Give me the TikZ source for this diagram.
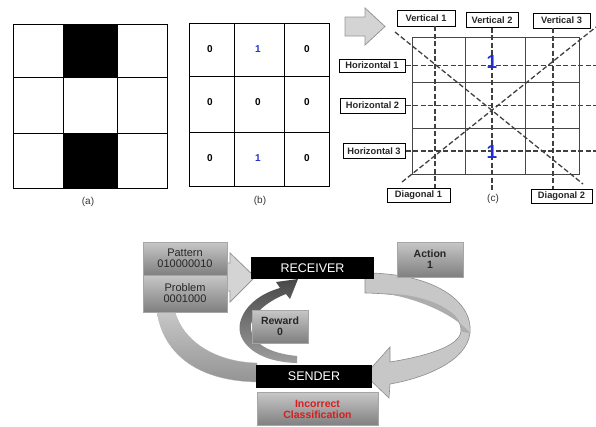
\documentclass[tikz,border=0pt]{standalone}
\usepackage{fontspec}
\setmainfont{Liberation Sans}
\usetikzlibrary{calc}
\definecolor{bblue}{RGB}{30,45,215}
\definecolor{lblue}{RGB}{40,50,200}
\definecolor{gline}{RGB}{70,70,70}
\definecolor{larrow}{RGB}{212,212,212}
\definecolor{larrowb}{RGB}{150,150,150}
\definecolor{itxt}{RGB}{215,30,30}
\begin{document}
\begin{tikzpicture}[x=1pt,y=-1pt,
  gridline/.style={line width=0.8pt,black},
  cgrid/.style={line width=0.7pt,gline},
  dline/.style={line width=1.3pt,black!75,dash pattern=on 5pt off 2.5pt},
  lab/.style={draw=black,fill=white,line width=1pt,inner sep=0pt,font=\fontsize{9.3}{10}\selectfont\bfseries,text=black!85},
  num/.style={font=\fontsize{10}{11}\selectfont\bfseries},
  captxt/.style={font=\fontsize{10}{11}\selectfont,text=black!80},
  gbox/.style={top color=black!22,bottom color=black!50,draw=black!35,line width=0.4pt,inner sep=0pt,align=center,text=black!85,font=\fontsize{11}{12}\selectfont},
  bbox/.style={fill=black,inner sep=0pt,text=white,font=\fontsize{12.5}{13}\selectfont}]
\useasboundingbox (0,0) rectangle (596,426);

% ---------- (a) ----------
\fill[black] (63,24) rectangle (117,77);
\fill[black] (63,133) rectangle (117,188);
\draw[gridline] (13,24) rectangle (167,188);
\draw[gridline] (63,24) -- (63,188) (117,24) -- (117,188) (13,77) -- (167,77) (13,133) -- (167,133);
\node[captxt] (la) at (88,202) {(a)};

% ---------- (b) ----------
\draw[gridline] (189,23) rectangle (329,186);
\draw[gridline] (234,23) -- (234,186) (284,23) -- (284,186) (189,76) -- (329,76) (189,132) -- (329,132);
\node[num] (b11) at (210,49) {0};
\node[num,text=lblue] (b12) at (258,49) {1};
\node[num] (b13) at (307,49) {0};
\node[num] (b21) at (210,102) {0};
\node[num] (b22) at (258,102) {0};
\node[num] (b23) at (307,102) {0};
\node[num] (b31) at (210,158) {0};
\node[num,text=lblue] (b32) at (258,158) {1};
\node[num] (b33) at (307,158) {0};
\node[captxt] (lb) at (260,201) {(b)};

% ---------- arrow to (c) ----------
\draw[fill=larrow,draw=larrowb,line width=0.8pt] (345,17) -- (365,17) -- (365,8) -- (385,26.5) -- (365,45) -- (365,36) -- (345,36) -- cycle;

% ---------- (c) ----------
\draw[cgrid] (412,37) rectangle (579,174);
\draw[cgrid] (465,37) -- (465,174) (525,37) -- (525,174) (412,82) -- (579,82) (412,128) -- (579,128);

\node[lab,minimum width=58pt,minimum height=16pt] (v1) at (426,18) {Vertical 1};
\node[lab,minimum width=52pt,minimum height=15pt] (v2) at (492,20) {Vertical 2};
\node[lab,minimum width=57pt,minimum height=15pt] (v3) at (561.5,20.5) {Vertical 3};
\node[lab,minimum width=66pt,minimum height=13pt] (h1) at (372,65.5) {Horizontal 1};
\node[lab,minimum width=65pt,minimum height=15pt] (h2) at (372.5,105.5) {Horizontal 2};
\node[lab,minimum width=62pt,minimum height=15pt] (h3) at (374,151) {Horizontal 3};
\node[lab,minimum width=63pt,minimum height=14pt] (d1) at (418.5,195) {Diagonal 1};
\node[lab,minimum width=61pt,minimum height=14pt] (d2) at (561.5,196) {Diagonal 2};
\node[captxt] (lc) at (493,199) {(c)};

\coordinate (v1b) at (435,26);
\coordinate (v2b) at (492,27.5);
\coordinate (v3b) at (553,28);
\coordinate (redge) at (596,0);
\coordinate (d2s) at (395,32);
\coordinate (d2e) at (583,184);
\coordinate (d1s) at (402,182);
\coordinate (d1e) at (596,27);

\draw[dline] (v1b) -- (v1b |- d1.north);
\draw[dline] (v2b) -- (v2b |- lc.north);
\draw[dline] (v3b) -- (v3b |- d2.north);
\draw[dline] (h1.east) -- (h1.east -| redge);
\draw[dline] (h2.east) -- (h2.east -| redge);
\draw[dline] (h3.east) -- (h3.east -| redge);
\draw[dline] (d2s) -- (d2e);
\draw[dline] (d1s) -- (d1e);

\node[font=\fontsize{19}{20}\selectfont\bfseries,text=bblue] (c1) at (492,62) {1};
\node[font=\fontsize{19}{20}\selectfont\bfseries,text=bblue] (c2) at (492,152) {1};

% ---------- bottom cycle ----------
% left band (sender -> problem)
\shade[top color=black!22,bottom color=black!42,draw=black!30,line width=0.3pt]
  (257,382) .. controls (200,381) and (164,356) .. (157,312) -- (175,312)
  .. controls (183,341) and (215,362) .. (257,363) -- cycle;
% light arrow into receiver
\draw[fill=larrow,draw=larrowb,line width=0.8pt] (215,263) -- (230,263) -- (230,253) -- (255,277) -- (230,302) -- (230,291) -- (215,291) -- cycle;
% right band (receiver -> sender)
\draw[fill=black!22,draw=black!45,line width=0.6pt]
  (365,273) .. controls (432,273) and (473,300) .. (470,333)
  .. controls (467,361) and (425,378) .. (390,384) -- (389,398) -- (365,375) -- (390,347) -- (390,362)
  .. controls (427,356) and (460,346) .. (461,331)
  .. controls (462,310) and (425,294) .. (365,293) -- cycle;
\fill[black!32] (461,331) .. controls (462,310) and (425,294) .. (385,293.5)
  .. controls (425,300) and (458,318) .. (470,333) .. controls (468,333) and (463,332) .. (461,331) -- cycle;
% dark arrow (sender -> receiver)
\shade[top color=black!72,bottom color=black!38]
  (297,363) .. controls (255,362) and (236,341) .. (240,323)
  .. controls (244,305) and (262,293) .. (280,288) -- (276,282) -- (298,279) -- (290,299) -- (286,294)
  .. controls (270,300) and (254,312) .. (251,324)
  .. controls (249,341) and (266,353) .. (297,356) -- cycle;

\node[gbox,minimum width=84pt,minimum height=33pt] (pat) at (185,258.5) {Pattern\\[-1pt]010000010};
\node[gbox,minimum width=84pt,minimum height=37pt] (prob) at (185,293.5) {Problem\\[-1pt]0001000};
\node[gbox,minimum width=66pt,minimum height=35pt,font=\fontsize{10.5}{12}\selectfont\bfseries] (act) at (430,259.5) {Action\\[-1pt]1};
\node[bbox,minimum width=123pt,minimum height=22pt] (rec) at (312.5,268) {RECEIVER};
\node[gbox,minimum width=56pt,minimum height=33pt,font=\fontsize{10.5}{12}\selectfont\bfseries] (rew) at (280,326.5) {Reward\\[-1pt]0};
\node[bbox,minimum width=116pt,minimum height=23pt] (snd) at (314,376.5) {SENDER};
\node[gbox,minimum width=121pt,minimum height=33pt,text=itxt,font=\fontsize{10.5}{12}\selectfont\bfseries] (inc) at (317.5,409) {Incorrect\\[-1pt]Classification};
\end{tikzpicture}
\end{document}
